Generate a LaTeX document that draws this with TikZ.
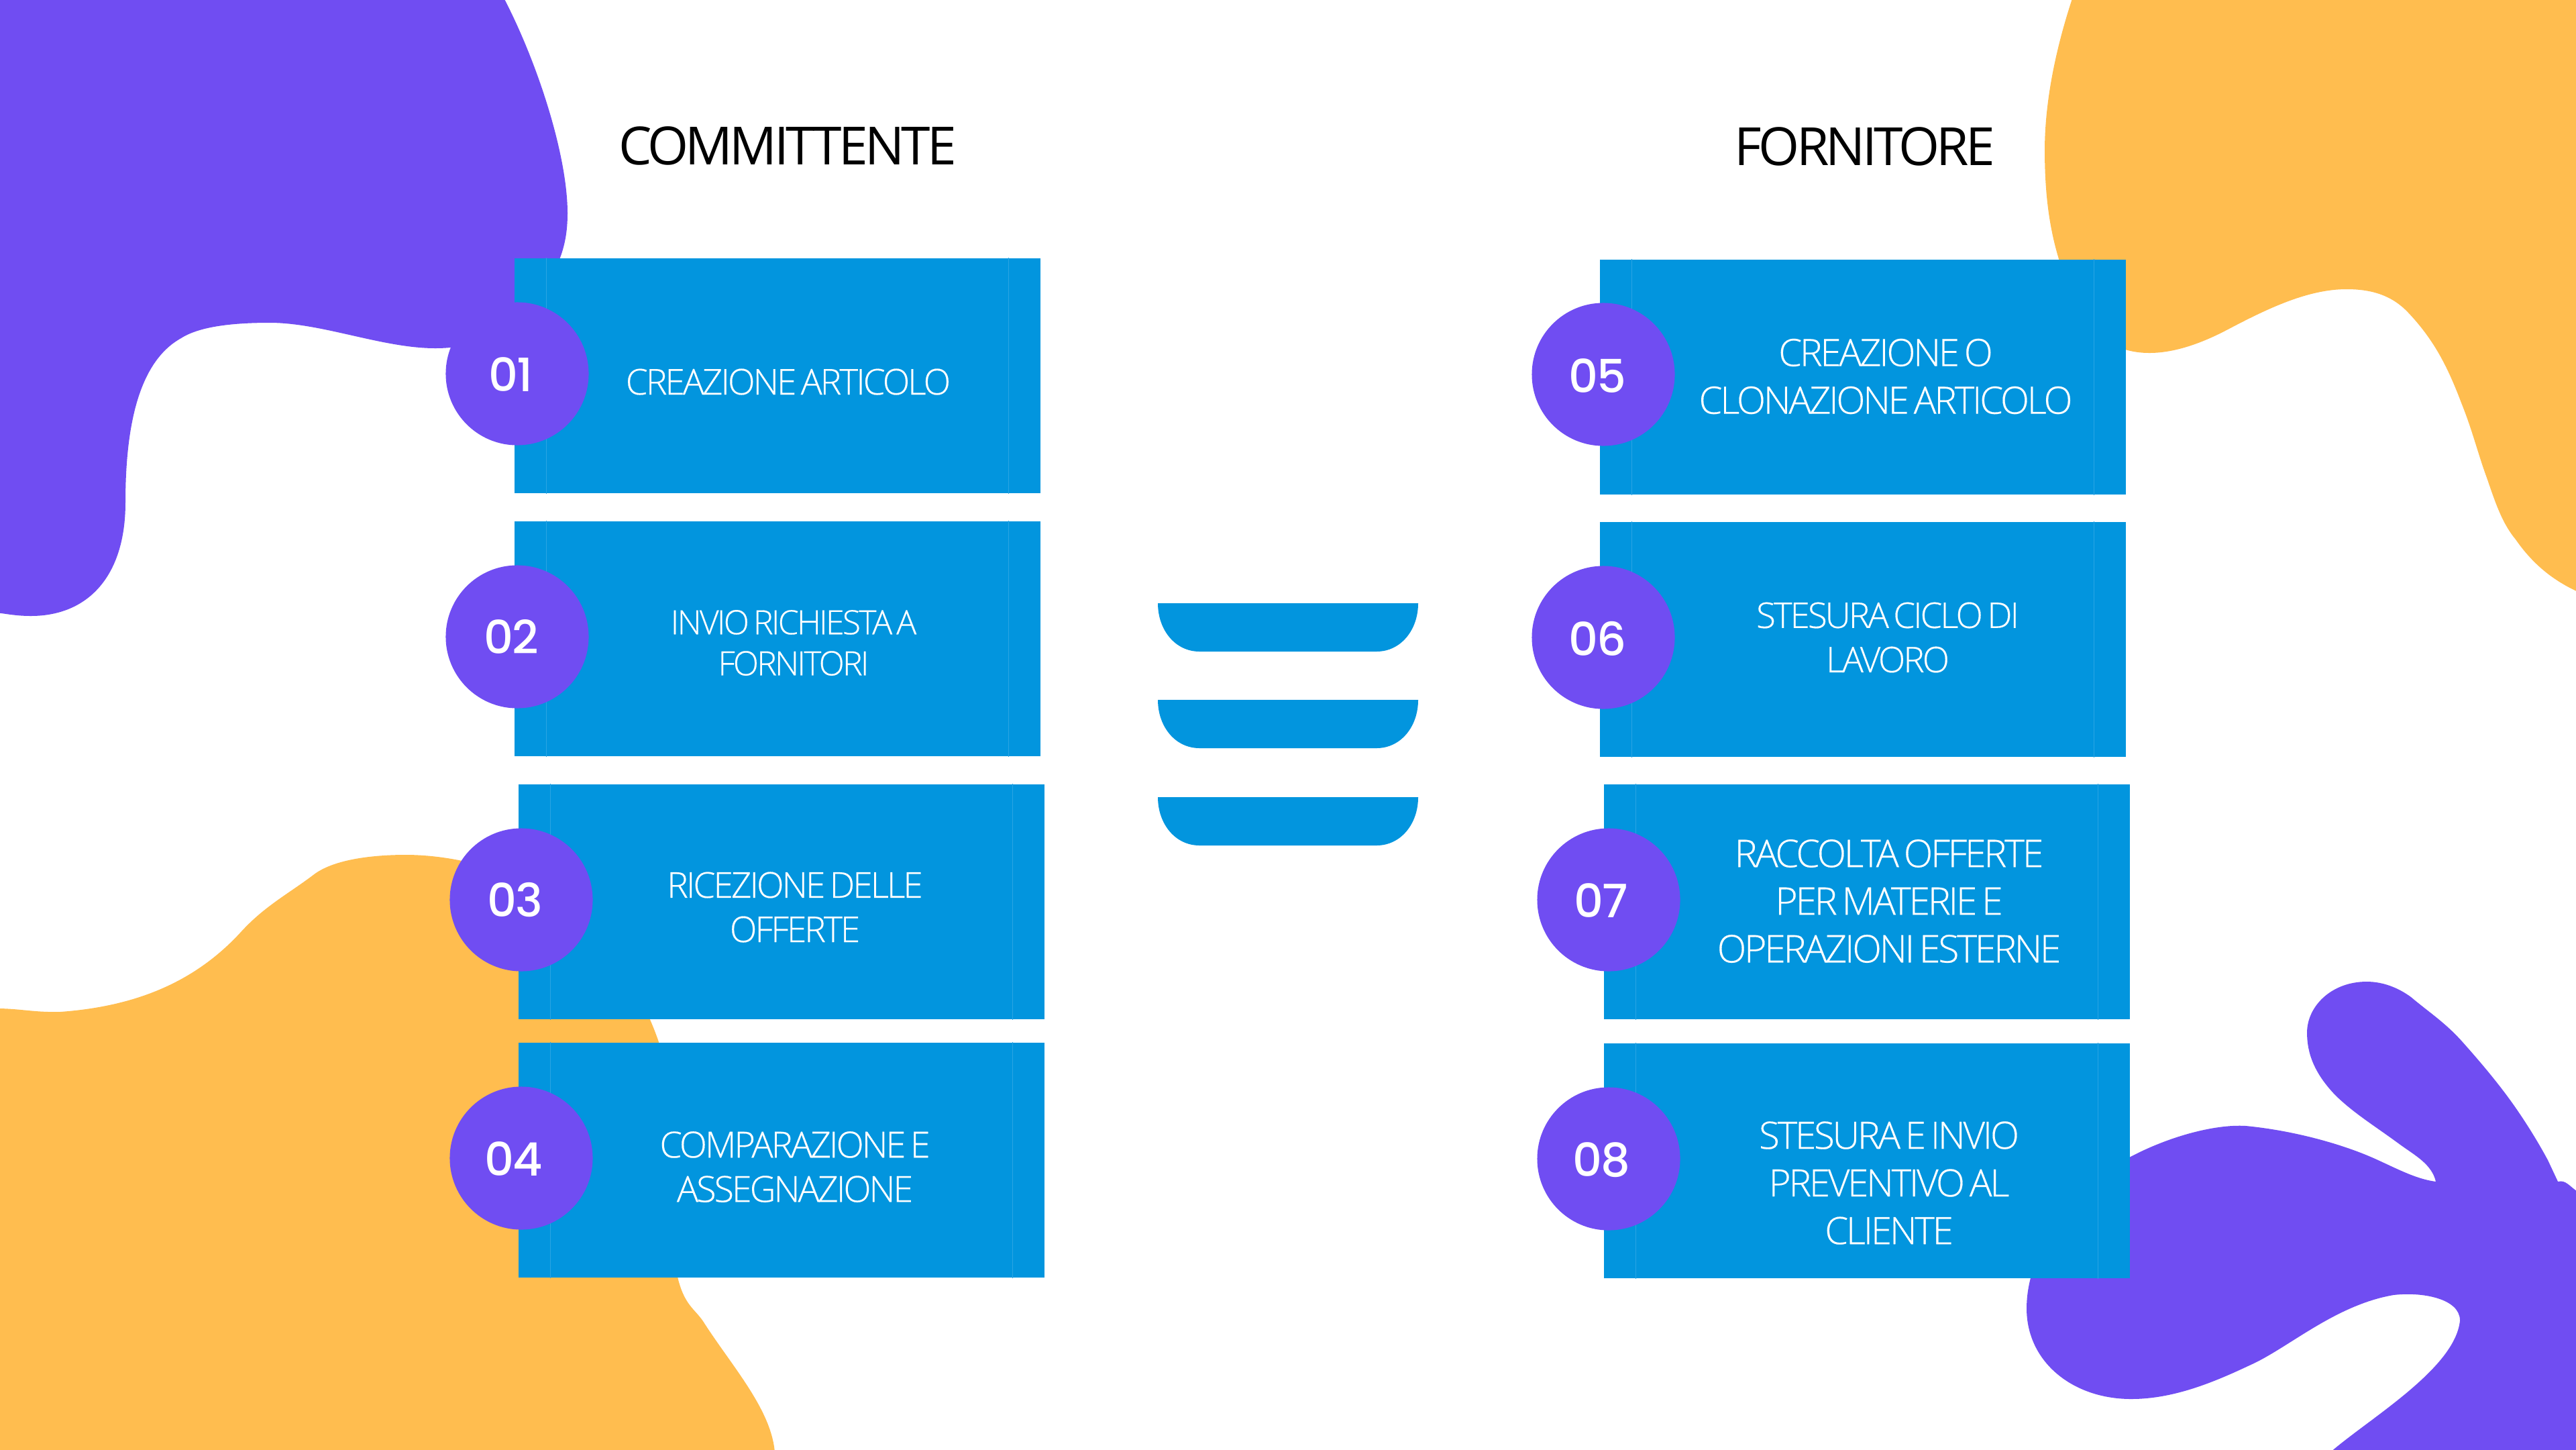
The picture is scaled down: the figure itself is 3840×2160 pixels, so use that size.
\documentclass[tikz,border=0pt]{standalone}
\usepackage{fontspec}
\setmainfont{Open Sans}
\newfontfamily\lightf[LetterSpace=-5.5,WordSpace=0.6,FakeBold=0.3]{Open Sans Light}
\newfontfamily\titlef[LetterSpace=-6,WordSpace=0.6]{Open Sans}
\newfontfamily\numf[LetterSpace=-3]{Poppins Medium}
\definecolor{boxblue}{HTML}{0295DE}
\definecolor{edgeblue}{HTML}{2AA4E3}
\definecolor{blobpurple}{HTML}{704DF2}
\definecolor{bloborange}{HTML}{FFBD4F}
\tikzset{
  panel/.style={fill=boxblue,draw=none,minimum width=784\mypx,minimum height=350\mypx,inner sep=0pt,anchor=north west},
  badge/.style={circle,fill=blobpurple,minimum size=213\mypx,inner sep=0pt},
  numtext/.style={text=white,font=\numf\fontsize{19.5}{22}\selectfont,inner sep=0pt},
  label/.style={text=white,align=center,inner sep=0pt},
  title/.style={text=black,inner sep=0pt,font=\titlef\fontsize{22.3}{26}\selectfont},
  stripe/.style={draw=edgeblue,line width=0.3pt},
  tray/.style={fill=boxblue,draw=none},
}
\def\mypx{*0.2845pt}
\begin{document}
\begin{tikzpicture}[x=0.01cm,y=-0.01cm]
\useasboundingbox (0,0) rectangle (3840,2160);
\fill[white] (0,0) rectangle (3840,2160);
\begin{scope}
\clip (0,0) rectangle (3840,2160);
\fill[blobpurple] (-5,-5) -- (750,-5) .. controls (800,90) and (846,230) .. (846,318)
 .. controls (846,345) and (842,365) .. (835,384) .. controls (800,480) and (730,519) .. (649,519)
 .. controls (570,519) and (480,481) .. (402,481) .. controls (340,481) and (295,488) .. (270,504)
 .. controls (205,540) and (187,640) .. (187,749) .. controls (187,860) and (130,918) .. (46,918)
 .. controls (25,918) and (10,915) .. (-5,913) -- cycle;
\fill[bloborange] (-5,1503) .. controls (30,1503) and (50,1509) .. (90,1508)
 .. controls (200,1500) and (290,1465) .. (360,1388) .. controls (395,1350) and (430,1332) .. (467,1304)
 .. controls (495,1282) and (550,1274) .. (605,1274) .. controls (635,1274) and (665,1278) .. (689,1283)
 .. controls (800,1310) and (930,1400) .. (982,1553)
 -- (1010,1903) .. controls (1020,1945) and (1035,1950) .. (1048,1969)
 .. controls (1090,2035) and (1150,2100) .. (1155,2165) -- (-5,2165) -- cycle;
\fill[bloborange] (3090,-5) .. controls (3065,70) and (3048,150) .. (3048,224)
 .. controls (3048,290) and (3055,340) .. (3069,386) .. controls (3085,440) and (3120,505) .. (3168,521)
 .. controls (3215,535) and (3270,518) .. (3321,491) .. controls (3380,460) and (3440,431) .. (3498,431)
 .. controls (3535,431) and (3565,440) .. (3589,465) .. controls (3630,508) and (3650,550) .. (3670,603)
 .. controls (3685,640) and (3695,680) .. (3707,712) .. controls (3720,750) and (3730,780) .. (3750,804)
 .. controls (3775,840) and (3805,865) .. (3845,883) -- (3845,-5) -- cycle;
\fill[blobpurple] (3845,2165) -- (3473,2165) .. controls (3530,2115) and (3660,2040) .. (3667,1968)
 .. controls (3667,1935) and (3610,1925) .. (3568,1930) .. controls (3480,1945) and (3410,2010) .. (3353,2035)
 .. controls (3300,2060) and (3240,2085) .. (3177,2085) .. controls (3090,2085) and (3021,2030) .. (3021,1950)
 .. controls (3021,1850) and (3110,1760) .. (3174,1725) .. controls (3230,1695) and (3300,1675) .. (3348,1678)
 .. controls (3420,1685) and (3490,1705) .. (3536,1725) .. controls (3570,1740) and (3600,1757) .. (3631,1761)
 .. controls (3625,1735) and (3600,1722) .. (3578,1706) .. controls (3540,1678) and (3510,1660) .. (3482,1633)
 .. controls (3450,1600) and (3439,1570) .. (3439,1539) .. controls (3439,1500) and (3475,1463) .. (3528,1463)
 .. controls (3552,1463) and (3575,1472) .. (3594,1486) .. controls (3620,1508) and (3645,1524) .. (3670,1552)
 .. controls (3695,1580) and (3725,1615) .. (3750,1651) .. controls (3770,1680) and (3785,1705) .. (3798,1729)
 -- (3813,1761) .. controls (3825,1758) and (3830,1768) .. (3845,1778) -- cycle;
\end{scope}

\node[title,anchor=center] (tl) at (1174,217) {COMMITTENTE};
\node[title,anchor=center] (tr) at (2780,218) {FORNITORE};

\foreach \nm/\xx/\yy in {p1/766/384,p2/766/776,p3/772/1168,p4/772/1553,p5/2384/386,p6/2384/777,p7/2390/1168,p8/2390/1554}{
  \node[panel] (\nm) at (\xx,\yy) {};
  \draw[stripe] ([xshift=0.485cm]\nm.north west) -- ([xshift=0.485cm]\nm.south west);
  \draw[stripe] ([xshift=-0.485cm]\nm.north east) -- ([xshift=-0.485cm]\nm.south east);
}

\foreach \nm/\xx/\yy in {c1/771/557,c2/771/949,c3/777/1341,c4/777/1726,c5/2390/558,c6/2390/950,c7/2398/1341,c8/2398/1727}{
  \node[badge] (\nm) at (\xx,\yy) {};
}
\node[numtext] (n1) at (761,558) {01};
\node[numtext] (n2) at (762,949) {02};
\node[numtext] (n3) at (768,1341) {03};
\node[numtext] (n4) at (766,1727) {04};
\node[numtext] (n5) at (2381,560) {05};
\node[numtext] (n6) at (2381,952) {06};
\node[numtext] (n7) at (2387,1342) {07};
\node[numtext] (n8) at (2387,1729) {08};

\node[label,font=\lightf\fontsize{15.1}{18}\selectfont] (t1) at (1175,569) {CREAZIONE ARTICOLO};
\node[label,font=\lightf\fontsize{14.2}{17.4}\selectfont] (t2) at (1183,958) {INVIO RICHIESTA A\\FORNITORI};
\node[label,font=\lightf\fontsize{15.1}{18.8}\selectfont] (t3) at (1185,1352) {RICEZIONE DELLE\\OFFERTE};
\node[label,font=\lightf\fontsize{15.3}{18.8}\selectfont] (t4) at (1185,1739) {COMPARAZIONE E\\ASSEGNAZIONE};
\node[label,font=\lightf\fontsize{16}{20.2}\selectfont] (t5) at (2811,561) {CREAZIONE O\\CLONAZIONE ARTICOLO};
\node[label,font=\lightf\fontsize{15}{18.8}\selectfont] (t6) at (2814,950) {STESURA CICLO DI\\LAVORO};
\node[label,font=\lightf\fontsize{16.2}{20.2}\selectfont] (t7) at (2816,1343) {RACCOLTA OFFERTE\\PER MATERIE E\\OPERAZIONI ESTERNE};
\node[label,font=\lightf\fontsize{16}{20.2}\selectfont] (t8) at (2816,1763) {STESURA E INVIO\\PREVENTIVO AL\\CLIENTE};

\foreach \yy in {899,1043,1188}{
  \fill[tray] (1726,\yy) -- (2114,\yy) .. controls (2114,\yy+40) and (2088,\yy+72) .. (2052,\yy+72)
   -- (1788,\yy+72) .. controls (1752,\yy+72) and (1726,\yy+40) .. (1726,\yy) -- cycle;
}
\end{tikzpicture}
\end{document}
